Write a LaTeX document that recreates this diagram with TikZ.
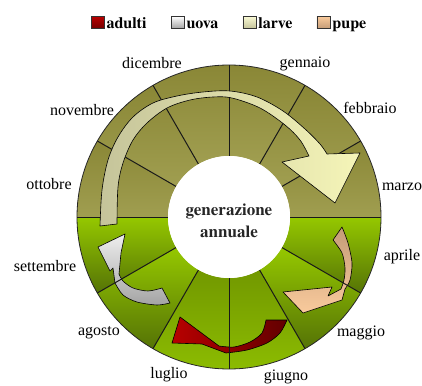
\documentclass[tikz,border=0pt]{standalone}
\usepackage{fontspec}
\setmainfont{Liberation Serif}
\newfontfamily\grassetto{texgyretermes-bold.otf}
\usetikzlibrary{calc,positioning}

\definecolor{olD}{HTML}{8A8736}
\definecolor{olL}{HTML}{CFCC90}
\definecolor{olM}{HTML}{A09E50}
\definecolor{grL}{HTML}{95C800}
\definecolor{grD}{HTML}{557306}
\definecolor{grM}{HTML}{729800}
\definecolor{uoL}{HTML}{EEEEEE}
\definecolor{uoD}{HTML}{A4A4A4}
\definecolor{adL}{HTML}{B80000}
\definecolor{adD}{HTML}{620000}
\definecolor{puD}{HTML}{C49C78}
\definecolor{puL}{HTML}{F9CA9C}
\definecolor{lvL}{HTML}{C5C49A}
\definecolor{lvR}{HTML}{F5F5B8}

\begin{document}
\begin{tikzpicture}[
    x=1pt, y=-1pt,
    font=\fontsize{16}{18}\selectfont,
    mon/.style={inner sep=0pt},
    ctr/.style={align=center, inner sep=0pt, text=black!85, font=\grassetto\fontsize{17}{22}\selectfont},
    legsq/.style={draw=black!80, line width=0.6pt, minimum width=13pt, minimum height=12pt, inner sep=0pt},
    legtxt/.style={inner sep=0pt, font=\grassetto\fontsize{16}{18}\selectfont},
    olseg/.style={top color=olD, middle color=olL, bottom color=olM},
    grA/.style={top color=grL, bottom color=grD},
    grB/.style={top color=grM, middle color=grL, bottom color=grL!85!grD},
    spoke/.style={line width=1pt, black!90},
    arr/.style={draw=black, line width=0.6pt, line join=round}
]
\useasboundingbox (0,0) rectangle (422,385);
\coordinate (c) at (229,217);

% legenda
\node[legsq, top color=adL, bottom color=adD!80!adL] (sqA) at (97.5,22.5) {};
\node[legtxt, right=2pt of sqA.south east, anchor=base west] (txA) {adulti};
\node[legsq, top color=white, bottom color=uoD, right=24pt of txA.base east, anchor=south west] (sqU) {};
\node[legtxt, right=2pt of sqU.south east, anchor=base west] (txU) {uova};
\node[legsq, top color=lvR!60!white, bottom color=lvL, right=24pt of txU.base east, anchor=south west] (sqL) {};
\node[legtxt, right=2pt of sqL.south east, anchor=base west] (txL) {larve};
\node[legsq, top color=puL, bottom color=puD, right=24pt of txL.base east, anchor=south west] (sqP) {};
\node[legtxt, right=2pt of sqP.south east, anchor=base west] (txP) {pupe};

% corona dei mesi
\foreach \a in {0,-30,...,-150}
  \shade[olseg] ($(c)+(\a:61)$) arc[start angle=\a, end angle=\a-30, radius=61]
    -- ($(c)+({\a-30}:152)$) arc[start angle=\a-30, end angle=\a, radius=152] -- cycle;
\foreach \a/\s in {0/grA,30/grA,60/grB,90/grB,120/grA,150/grA}
  \shade[\s] ($(c)+(\a:61)$) arc[start angle=\a, end angle=\a+30, radius=61]
    -- ($(c)+({\a+30}:152)$) arc[start angle=\a+30, end angle=\a, radius=152] -- cycle;

% frecce piccole
\shade[arr, top color=uoL, bottom color=uoD]
  (125,234) -- (98,247) -- (110,271) -- (113,268) -- (115,283)
  -- plot[smooth] coordinates {(115,283) (123,295) (137,302) (157,305) (170,303)}
  -- (162,288)
  -- plot[smooth] coordinates {(162,288) (148,291) (133,288) (123,281) (119,274)}
  -- (121,253) -- cycle;
\shade[arr, left color=adL, right color=adD]
  (180,317) -- (172,343) -- (202,344) -- (226,353)
  -- plot[smooth] coordinates {(226,353) (247,350) (267,343) (280,333) (287,320)}
  -- (266,320)
  -- plot[smooth] coordinates {(266,320) (262,333) (250,342) (234,347) (219,346)}
  -- cycle;
\shade[arr, top color=puD, bottom color=puL]
  (333,240) -- (342,227)
  -- plot[smooth] coordinates {(342,227) (348,243) (352,263) (350,280) (345,289)}
  -- (342,300) -- (303,313) -- (283,292) -- (332,287) -- (328,296) -- (341,289)
  -- plot[smooth] coordinates {(341,289) (344,280) (345,268) (342,253) (333,240)}
  -- cycle;

\foreach \a in {0,30,...,330}
  \draw[spoke] ($(c)+(\a:61)$) -- ($(c)+(\a:152)$);
\draw[line width=0.8pt, black!85] (c) circle[radius=152];
\fill[white] (c) circle[radius=61];

% freccia grande
\shade[arr, left color=lvL, right color=lvR]
  plot[smooth, tension=0.55] coordinates {(100,226) (102,190) (108,160) (118,137) (133,117) (153,103) (177,96) (203,92) (230,91) (257,97) (283,111) (305,129) (320,144) (327,154)}
  -- (360,153) -- (335,203) -- (282,162) -- (309,156)
  -- plot[smooth, tension=0.55] coordinates {(309,156) (300,140) (285,125) (260,108) (232,98) (213,97) (190,100) (167,108) (147,123) (133,140) (123,163) (118,187) (117,224)}
  -- cycle;

\node[ctr] (gen) at (229,221) {generazione\\annuale};

% mesi
\node[mon] (gen) at (305,64) {gennaio};
\node[mon] (feb) at (370,108) {febbraio};
\node[mon] (mar) at (402,187) {marzo};
\node[mon] (apr) at (402,257) {aprile};
\node[mon] (mag) at (361,333) {maggio};
\node[mon] (giu) at (286,377) {giugno};
\node[mon] (lug) at (169,375) {luglio};
\node[mon] (ago) at (99,333) {agosto};
\node[mon] (set) at (45,266) {settembre};
\node[mon] (ott) at (49,184) {ottobre};
\node[mon] (nov) at (82,110) {novembre};
\node[mon] (dic) at (152,63) {dicembre};
\end{tikzpicture}
\end{document}
